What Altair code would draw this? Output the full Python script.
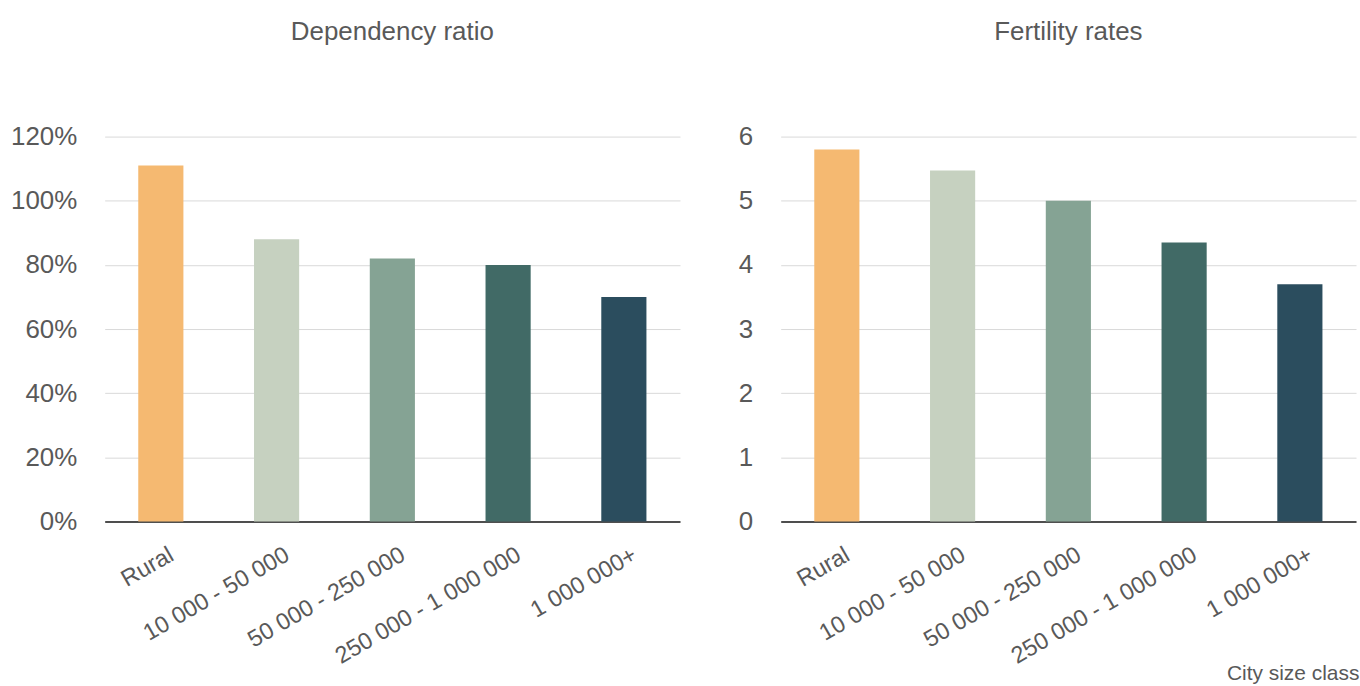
import altair as alt
import pandas as pd

# City size classes and the two indicators per class
categories = ["Rural", "10 000 - 50 000", "50 000 - 250 000", "250 000 - 1 000 000", "1 000 000+"]
dependency_ratio = [1.11, 0.88, 0.82, 0.80, 0.70]
fertility_rate = [5.80, 5.47, 5.00, 4.35, 3.70]
bar_colors = ["#F5B971", "#C6D1C0", "#85A394", "#416A66", "#2B4D5E"]

df = pd.DataFrame({
    "cls": categories,
    "dep": dependency_ratio,
    "fert": fertility_rate,
})

FONT = "Liberation Sans"
GREY = "#595959"
PLOT_W, PLOT_H = 577, 386

color = alt.Color("cls:N", scale=alt.Scale(domain=categories, range=bar_colors), legend=None)
xscale = alt.Scale(paddingInner=0.61, paddingOuter=0.29)


def x_axis(title=None, **kw):
    return alt.X(
        "cls:N",
        sort=categories,
        scale=xscale,
        title=title,
        axis=alt.Axis(
            labelAngle=330,
            labelAlign="right",
            labelBaseline="top",
            labelPadding=21,
            labelOffset=5,
            labelFontSize=23.5,
            labelColor=GREY,
            labelFont=FONT,
            labelLimit=0,
            ticks=False,
            domainColor="#1a1a1a",
            domainWidth=1.5,
            labelOverlap=False,
            **kw,
        ),
    )


def y_axis_kw(extent):
    return dict(
        labelFontSize=26,
        labelColor=GREY,
        labelFont=FONT,
        labelPadding=28,
        ticks=False,
        domain=False,
        gridColor="#d9d9d9",
        gridWidth=1,
        minExtent=extent,
        maxExtent=extent,
    )


def panel_title(text):
    return alt.TitleParams(
        text,
        fontSize=26,
        font=FONT,
        fontWeight="normal",
        color=GREY,
        anchor="middle",
        frame="group",
        offset=79,
    )


left = alt.Chart(df, title=panel_title("Dependency ratio")).mark_bar().encode(
    x=x_axis(),
    y=alt.Y(
        "dep:Q",
        scale=alt.Scale(domain=[0, 1.2], nice=False),
        title=None,
        axis=alt.Axis(values=[0, 0.2, 0.4, 0.6, 0.8, 1.0, 1.2], format=".0%", **y_axis_kw(105)),
    ),
    color=color,
).properties(width=PLOT_W, height=PLOT_H)

right = alt.Chart(df, title=panel_title("Fertility rates")).mark_bar().encode(
    x=x_axis(
        "City size class",
        titleFontSize=21,
        titleFont=FONT,
        titleFontWeight="normal",
        titleColor=GREY,
        titleX=447,
        titleY=158,
        titleAlign="left",
        titleBaseline="alphabetic",
        titleAngle=0,
    ),
    y=alt.Y(
        "fert:Q",
        scale=alt.Scale(domain=[0, 6], nice=False),
        title=None,
        axis=alt.Axis(values=[0, 1, 2, 3, 4, 5, 6], **y_axis_kw(60)),
    ),
    color=color,
).properties(width=PLOT_W, height=PLOT_H)

chart = (
    alt.hconcat(left, right, spacing=41)
    .properties(
        padding={"left": 0, "top": 18, "right": 0, "bottom": 0},
        background="white",
    )
    .configure_view(stroke=None)
)

chart.save("out.html", embed_options={"renderer": "svg", "actions": False})
